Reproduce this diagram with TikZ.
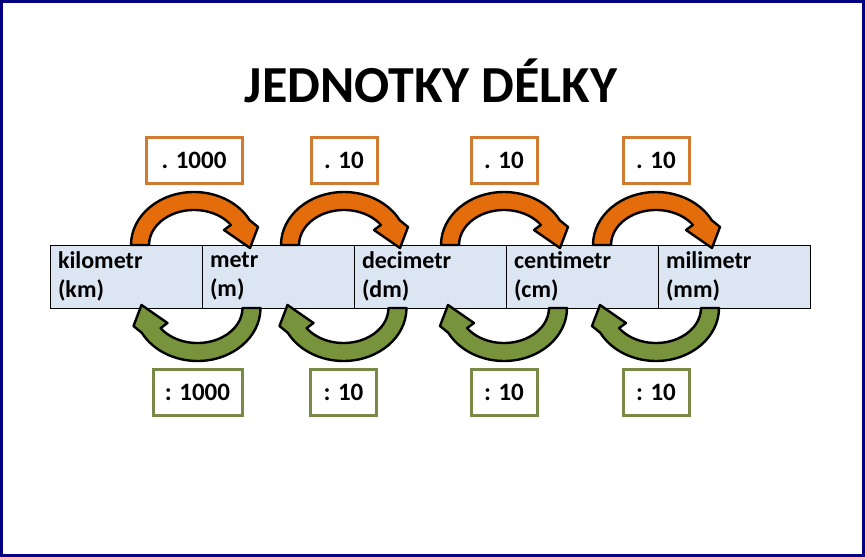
\documentclass[tikz,border=0pt]{standalone}
\usepackage{fontspec}
\setmainfont{Carlito}
\usetikzlibrary{positioning}
\definecolor{jdFrame}{RGB}{0,0,128}
\definecolor{jdCell}{RGB}{220,230,242}
\definecolor{jdOrange}{RGB}{228,108,10}
\definecolor{jdGreen}{RGB}{119,147,60}
\definecolor{jdOrangeLine}{RGB}{208,122,50}
\definecolor{jdGreenLine}{RGB}{120,138,70}
\tikzset{
    base/.style={inner sep=0pt, outer sep=0pt},
    title/.style={base, font=\fontsize{52}{60}\selectfont\bfseries},
    cell/.style={base, rectangle, draw=black, line width=0.8pt, fill=jdCell,
                 minimum width=152pt, minimum height=63pt, text width=136pt,
                 align=left, font=\fontsize{24}{29}\selectfont\bfseries},
    mulbox/.style={base, rectangle, draw=jdOrangeLine, line width=3pt, fill=white,
                   minimum width=66pt, minimum height=46pt,
                   font=\fontsize{25}{29}\selectfont\bfseries},
    divbox/.style={mulbox, draw=jdGreenLine},
    turn/.pic={
      \filldraw[fill=#1, draw=black, line width=2.4pt, line join=round]
        (-63,0) arc[start angle=180, end angle=28, x radius=63pt, y radius=53pt]
        -- (64,18) -- (56,-3) -- (30,15) -- (36.9,20.1)
        arc[start angle=35, end angle=180, x radius=45pt, y radius=35pt] -- cycle;
    }
}

\begin{document}
\begin{tikzpicture}[x=1pt, y=1pt]
  \useasboundingbox (0,0) rectangle (865,-557);
  \draw[line width=3pt, jdFrame] (1.5,-1.5) rectangle (863.5,-555.5);

  % Title
  \node[title, anchor=base] (title) at (431,-102) {JEDNOTKY DÉLKY};

  % Units
  \node[cell, anchor=north west] (km) at (50,-245) {kilometr\\(km)};
  \node[cell, right=0pt of km] (m) {metr\\(m)};
  \node[cell, right=0pt of m] (dm) {decimetr\\(dm)};
  \node[cell, right=0pt of dm] (cm) {centimetr\\(cm)};
  \node[cell, right=0pt of cm] (mm) {milimetr\\(mm)};

  % Factors
  \node[mulbox, minimum width=96pt] (mul1) at (194,-160) {. 1000};
  \node[mulbox] (mul2) at (344,-160) {. 10};
  \node[mulbox] (mul3) at (504,-160) {. 10};
  \node[mulbox] (mul4) at (656,-160) {. 10};

  \node[divbox, minimum width=89pt] (div1) at (197.5,-392) {: 1000};
  \node[divbox] (div2) at (343.5,-392) {: 10};
  \node[divbox] (div3) at (504,-392) {: 10};
  \node[divbox] (div4) at (656,-392) {: 10};

  % Arrows
  \pic at (mul1.south |- km.north) {turn=jdOrange};
  \pic at (mul2.south |- km.north) {turn=jdOrange};
  \pic at (mul3.south |- km.north) {turn=jdOrange};
  \pic at (mul4.south |- km.north) {turn=jdOrange};

  \pic[rotate=180] at (div1.north |- km.south) {turn=jdGreen};
  \pic[rotate=180] at (div2.north |- km.south) {turn=jdGreen};
  \pic[rotate=180] at (div3.north |- km.south) {turn=jdGreen};
  \pic[rotate=180] at (div4.north |- km.south) {turn=jdGreen};
\end{tikzpicture}
\end{document}
